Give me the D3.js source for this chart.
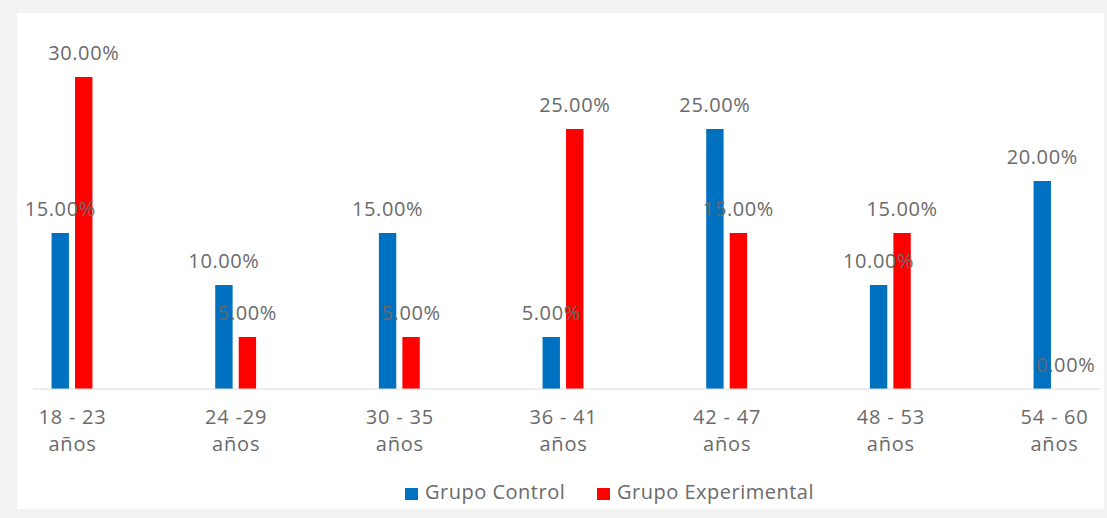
<!DOCTYPE html>
<html>
<head>
<meta charset="utf-8">
<script src="https://cdn.jsdelivr.net/npm/d3@7"></script>
<style>
  html, body { margin: 0; padding: 0; background: #f2f2f2; }
  svg { display: block; }
  text { font-family: "Open Sans", "Liberation Sans", sans-serif; fill: #6a6a6a; }
</style>
</head>
<body>
<svg id="chart" width="1107" height="518"></svg>
<script>
// Age ranges (first line of each axis label) and the shared second line
const ageRanges = ["18 - 23", "24 -29", "30 - 35", "36 - 41", "42 - 47", "48 - 53", "54 - 60"];
const ageUnit = "años";

// Share of participants per age range
const seriesNames = ["Grupo Control", "Grupo Experimental"];
const controlValues = [0.15, 0.10, 0.15, 0.05, 0.25, 0.10, 0.20];
const experimentalValues = [0.30, 0.05, 0.05, 0.25, 0.15, 0.15, 0.00];
const seriesColors = ["#0070C0", "#FF0000"];

const W = 1107, H = 518;
const panel = { x: 17, y: 13, w: 1087, h: 496 };
const baseY = 389;

const svg = d3.select("#chart");

svg.append("rect")
  .attr("x", panel.x).attr("y", panel.y)
  .attr("width", panel.w).attr("height", panel.h)
  .attr("fill", "#ffffff");

// Category centres
const x = d3.scalePoint().domain(ageRanges).range([72, 1054]);
// Position of each series inside a category group
const xs = d3.scaleBand().domain(seriesNames).range([-23.5, 23.5])
  .paddingInner(0.26).paddingOuter(0.13);
const y = d3.scaleLinear().domain([0, 0.30]).range([baseY, 77]);

const rows = ageRanges.map((a, i) => ({
  age: a,
  values: [controlValues[i], experimentalValues[i]]
}));
const flat = [];
rows.forEach(r => r.values.forEach((v, j) => flat.push({ age: r.age, series: seriesNames[j], j, v })));

// Bars
svg.append("g").selectAll("rect").data(flat).join("rect")
  .attr("x", d => x(d.age) + xs(d.series))
  .attr("width", xs.bandwidth())
  .attr("y", d => y(d.v))
  .attr("height", d => baseY - y(d.v))
  .attr("fill", d => seriesColors[d.j]);

// Category axis
const axis = svg.append("g")
  .attr("transform", `translate(0,${baseY})`)
  .call(d3.axisBottom(x).tickSize(0).tickFormat(""));
axis.select(".domain").remove();
axis.append("line")
  .attr("x1", 33).attr("x2", 1100)
  .attr("y1", 0).attr("y2", 0)
  .attr("stroke", "#d9d9d9").attr("stroke-width", 1);
axis.selectAll(".tick").each(function(d) {
  const t = d3.select(this).append("text")
    .attr("text-anchor", "middle")
    .style("font-size", "20px")
    .style("letter-spacing", "0.8px");
  t.append("tspan").attr("x", 0).attr("y", 35).text(d);
  t.append("tspan").attr("x", 0).attr("y", 62).text(ageUnit);
});

// Value labels
const pct = d3.format(".2%");
svg.append("g").selectAll("text").data(flat).join("text")
  .attr("x", d => x(d.age) + xs(d.series) + xs.bandwidth() / 2)
  .attr("y", d => y(d.v) - 17)
  .attr("text-anchor", "middle")
  .style("font-size", "20px")
  .style("letter-spacing", "0.6px")
  .text(d => pct(d.v));

// Legend
const legendItems = [
  { name: seriesNames[0], color: seriesColors[0], x: 405 },
  { name: seriesNames[1], color: seriesColors[1], x: 597 }
];
const lg = svg.append("g").selectAll("g").data(legendItems).join("g")
  .attr("transform", d => `translate(${d.x},488)`);
lg.append("rect").attr("width", 13).attr("height", 12).attr("fill", d => d.color);
lg.append("text").attr("x", 20).attr("y", 11)
  .style("font-size", "20px")
  .style("letter-spacing", "0.5px")
  .text(d => d.name);
</script>
</body>
</html>
